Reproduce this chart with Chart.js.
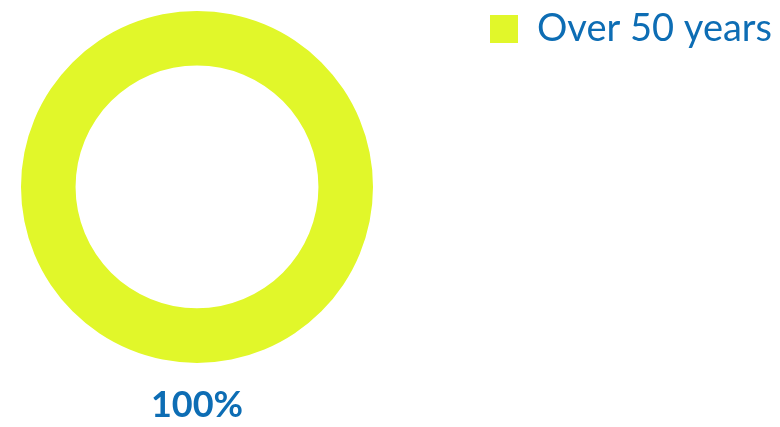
<!DOCTYPE html>
<html>
<head>
<meta charset="utf-8">
<script src="https://cdn.jsdelivr.net/npm/chart.js@4/dist/chart.umd.min.js"></script>
<style>
    html, body { margin: 0; padding: 0; background: #fff; }
    #wrap { width: 780px; height: 427px; position: relative; }
</style>
</head>
<body>
<div id="wrap"><canvas id="ageChart"></canvas></div>
<script>
// Age groups and their share of the total
const ageGroups = ['Over 50 years'];
const shares = [100];
const sliceColors = ['#e1f72a'];

const textBlue = '#0d6db4';

// Share of the first group, shown under the ring
const total = shares.reduce((a, b) => a + b, 0);
const shareLabel = Math.round(shares[0] / total * 100) + '%';

// Legend drawn in the free space right of the ring
const sideLegend = {
    id: 'sideLegend',
    afterDraw(chart, args, opts) {
        const c = chart.ctx;
        const ds = chart.data.datasets[0];
        c.save();
        c.font = opts.font;
        c.textBaseline = 'middle';
        c.textAlign = 'left';
        chart.data.labels.forEach((label, i) => {
            const y = opts.top + i * opts.rowHeight;
            c.fillStyle = ds.backgroundColor[i];
            c.fillRect(opts.left, y, opts.boxSize, opts.boxSize);
            c.fillStyle = opts.color;
            c.fillText(label, opts.left + opts.boxSize + opts.gap, y + opts.boxSize / 2);
        });
        c.restore();
    }
};

const ctx = document.getElementById('ageChart').getContext('2d');

const ageChart = new Chart(ctx, {
    type: 'doughnut',
    data: {
        labels: ageGroups,
        datasets: [{
            data: shares,
            backgroundColor: sliceColors,
            borderWidth: 0,
            hoverOffset: 0
        }]
    },
    options: {
        responsive: true,
        maintainAspectRatio: false,
        animation: false,
        radius: 176,
        cutout: '69%',
        layout: {
            padding: { top: 11, left: 0, right: 386, bottom: 0 }
        },
        plugins: {
            legend: { display: false },
            sideLegend: {
                left: 490,
                top: 15,
                boxSize: 28,
                gap: 19,
                rowHeight: 48,
                color: textBlue,
                font: '38px Lato'
            },
            title: {
                display: true,
                position: 'bottom',
                text: shareLabel,
                color: textBlue,
                font: { family: 'Lato', size: 36, weight: 'bold', lineHeight: 1.2 },
                padding: { top: 21, bottom: 0 }
            },
            tooltip: { enabled: false }
        }
    },
    plugins: [sideLegend]
});
</script>
</body>
</html>
